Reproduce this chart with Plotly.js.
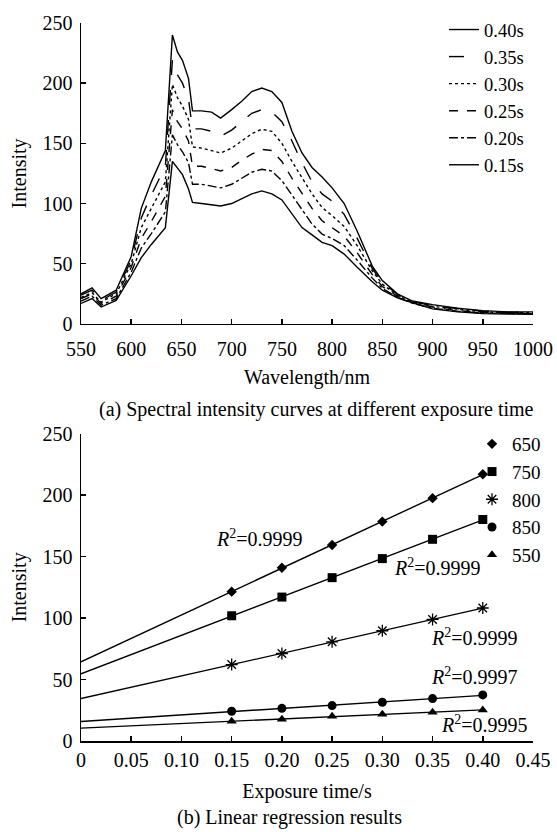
<!DOCTYPE html>
<html>
<head>
<meta charset="utf-8">
<script src="https://cdn.plot.ly/plotly-3.0.1.min.js"></script>
<style>
html,body{margin:0;padding:0;background:#fff;}
#chart{width:557px;height:832px;}
</style>
</head>
<body>
<div id="chart"></div>
<script>
// ---------- (a) spectral curves ----------
const wavelength = [550, 561, 570, 585, 600, 610, 620, 634, 641, 646, 651, 657, 661, 670, 680, 689, 700, 710, 720, 730, 740, 750, 760, 770, 780, 790, 800, 812, 825, 840, 850, 865, 880, 900, 925, 950, 975, 1000];
const s040 = [25, 30, 21, 28, 56, 96, 118, 144, 240, 226, 219, 204, 177, 177, 176, 171, 178, 185, 193, 196, 193, 184, 160, 142, 130, 122, 113, 100, 77, 48, 36, 25, 19, 16, 13, 11, 10, 10];
const s035 = [24, 28, 19.5, 26.5, 53, 88, 107, 131, 219, 207, 200, 187, 162, 162, 160, 156, 161, 168, 175, 178, 176, 168, 152, 134, 118, 108, 102, 91, 71, 46, 34.5, 24.5, 18.5, 15, 12.5, 10.5, 9.7, 9.6];
const s030 = [22, 26, 18, 25, 50, 80, 96, 118, 199, 188, 181, 170, 147, 146, 144, 142, 146, 152, 158, 161.7, 160, 150, 135, 121.5, 108, 96.7, 90, 81, 65, 44, 33, 23.5, 18, 14.5, 12, 10, 9.3, 9.2];
const s025 = [21, 25, 17, 23, 47, 71, 85, 106, 178, 168, 162, 152, 131, 131, 129, 127, 130, 136, 141, 145, 144, 135, 121, 108, 96, 85.7, 80, 73, 59, 41, 31, 23, 17.8, 14, 11, 9.5, 9, 8.8];
const s020 = [19, 23, 15.5, 21, 43, 63, 75, 93, 157, 149, 143, 134, 116, 116, 114.5, 113, 116, 121, 126, 128.5, 127, 119, 107, 94, 83, 74.6, 71, 65, 53, 38, 29.5, 22, 17.2, 13, 10.5, 9, 8.6, 8.4];
const s015 = [17, 21, 14, 19.5, 40, 55, 66, 80, 135, 129, 124, 112, 101, 100, 99, 98, 100, 104, 108, 110.5, 108, 103, 91, 80, 74, 67.7, 65, 58, 47, 35, 28, 21.7, 17.5, 12.5, 10, 8.5, 8.2, 8];
const spectraNames = ['0.40s', '0.35s', '0.30s', '0.25s', '0.20s', '0.15s'];
const wlTicks = [550, 600, 650, 700, 750, 800, 850, 900, 950, 1000];
const intensityTicks = [0, 50, 100, 150, 200, 250];

// ---------- (b) linear regression ----------
const exposure = [0.15, 0.20, 0.25, 0.30, 0.35, 0.40];
const i650 = [121.5, 141, 159.5, 178.5, 197.6, 217];
const i750 = [101.9, 117.1, 132.9, 148.4, 164.1, 180.2];
const i800 = [62.2, 71.2, 80.7, 89.7, 98.9, 108.2];
const i850 = [24.2, 26.6, 28.8, 31.5, 34.5, 37.5];
const i550 = [16.0, 17.7, 20.1, 21.7, 23.4, 25.3];
const bandNames = ['650', '750', '800', '850', '550'];
const r2Values = ['0.9999', '0.9999', '0.9999', '0.9997', '0.9995'];
const expTickVals = [0, 0.05, 0.10, 0.15, 0.20, 0.25, 0.30, 0.35, 0.40, 0.45];
const expTickText = ['0', '0.05', '0.10', '0.15', '0.20', '0.25', '0.30', '0.35', '0.40', '0.45'];

const FONT = 'Liberation Serif, Times New Roman, serif';
const traces = [];

const spectra = [s040, s035, s030, s025, s020, s015];
const dashes = ['solid', 'longdash', 'dot', 'dash', 'dashdot', 'solid'];
spectra.forEach((s, k) => {
  traces.push({
    x: wavelength, y: s, type: 'scatter', mode: 'lines', name: spectraNames[k],
    xaxis: 'x', yaxis: 'y', legend: 'legend',
    line: {color: '#000', width: 1.4, dash: dashes[k]}
  });
});

const bands = [i650, i750, i800, i850, i550];
const symbols = ['diamond', 'square', 'asterisk-open', 'circle', 'triangle-up'];
const sizes = [8, 9, 10, 9, 9];

function fit(xs, ys) {
  const n = xs.length;
  const mx = xs.reduce((a, b) => a + b, 0) / n;
  const my = ys.reduce((a, b) => a + b, 0) / n;
  let sxy = 0, sxx = 0;
  for (let i = 0; i < n; i++) { sxy += (xs[i] - mx) * (ys[i] - my); sxx += (xs[i] - mx) ** 2; }
  const b = sxy / sxx;
  return {slope: b, intercept: my - b * mx};
}

bands.forEach((ys, k) => {
  const f = fit(exposure, ys);
  const xl = [0, exposure[exposure.length - 1]];
  traces.push({
    x: xl, y: xl.map(v => f.intercept + f.slope * v), type: 'scatter', mode: 'lines',
    xaxis: 'x2', yaxis: 'y2', showlegend: false, hoverinfo: 'skip',
    line: {color: '#000', width: 1.4}
  });
});
bands.forEach((ys, k) => {
  traces.push({
    x: exposure, y: ys, type: 'scatter', mode: 'markers', name: bandNames[k],
    xaxis: 'x2', yaxis: 'y2', legend: 'legend2',
    marker: {symbol: symbols[k], size: sizes[k], color: '#000', line: {color: '#000', width: symbols[k] === 'asterisk-open' ? 1.3 : 0}}
  });
});

const r2Pos = [[0.178, 164.8], [0.355, 141.5], [0.392, 84.6], [0.392, 52.6], [0.402, 13.6]];
const annotations = r2Values.map((v, k) => ({
  x: r2Pos[k][0], y: r2Pos[k][1], xref: 'x2', yref: 'y2', showarrow: false,
  text: '<i>R</i><sup>2</sup>=' + v, font: {family: FONT, size: 20, color: '#000'},
  xanchor: 'center', yanchor: 'middle'
}));
annotations.push({
  x: 317, y: 409, xref: 'paper', yref: 'paper', showarrow: false,
  text: '(a) Spectral intensity curves at different exposure time',
  font: {family: FONT, size: 20, color: '#000'}, xanchor: 'center', yanchor: 'middle'
});
annotations.push({
  x: 290, y: 818, xref: 'paper', yref: 'paper', showarrow: false,
  text: '(b) Linear regression results',
  font: {family: FONT, size: 20, color: '#000'}, xanchor: 'center', yanchor: 'middle'
});
// convert pixel-placed captions into paper coords
const L = 81, R = 23, T = 22, B = 91, W = 557, H = 832;
const pw = W - L - R, ph = H - T - B;
annotations.slice(-2).forEach(a => { a.x = (a.x - L) / pw; a.y = (H - B - a.y) / ph; });

const axisCommon = {
  showline: true, linecolor: '#000', linewidth: 1.5, ticks: 'inside', ticklen: 5,
  tickcolor: '#000', tickwidth: 1.5, showgrid: false, zeroline: false,
  tickfont: {family: FONT, size: 20, color: '#000'}
};

const layout = {
  width: W, height: H,
  margin: {l: L, r: R, t: T, b: B},
  paper_bgcolor: '#fff', plot_bgcolor: '#fff',
  font: {family: FONT, size: 20, color: '#000'},
  showlegend: true,
  xaxis: Object.assign({}, axisCommon, {
    anchor: 'y', domain: [0, 1], range: [550, 1000], tickmode: 'array', tickvals: wlTicks,
    ticklabelstandoff: 7,
    title: {text: 'Wavelength/nm', font: {family: FONT, size: 20, color: '#000'}, standoff: 10}
  }),
  yaxis: Object.assign({}, axisCommon, {
    anchor: 'x', domain: [(H - B - 323.3) / ph, 1], range: [0, 250], tickmode: 'array', tickvals: intensityTicks,
    ticklabelstandoff: 3,
    title: {text: 'Intensity', font: {family: FONT, size: 20, color: '#000'}, standoff: 10}
  }),
  xaxis2: Object.assign({}, axisCommon, {
    anchor: 'y2', domain: [0, 1], range: [0, 0.45], tickmode: 'array', tickvals: expTickVals, ticktext: expTickText,
    title: {text: 'Exposure time/s', font: {family: FONT, size: 20, color: '#000'}, standoff: 14}
  }),
  yaxis2: Object.assign({}, axisCommon, {
    anchor: 'x2', domain: [0, (H - B - 433.3) / ph], range: [0, 250], tickmode: 'array', tickvals: intensityTicks,
    ticklabelstandoff: 3,
    title: {text: 'Intensity', font: {family: FONT, size: 20, color: '#000'}, standoff: 10}
  }),
  legend: {
    x: (444 - L) / pw, xanchor: 'left', y: (H - B - 11) / ph, yanchor: 'top',
    bgcolor: 'rgba(0,0,0,0)', font: {family: FONT, size: 18.5, color: '#000'}, tracegroupgap: 0
  },
  legend2: {
    x: (472 - L) / pw, xanchor: 'left', y: (H - B - 425) / ph, yanchor: 'top',
    bgcolor: 'rgba(0,0,0,0)', font: {family: FONT, size: 19, color: '#000'}, tracegroupgap: 0
  },
  annotations: annotations
};

Plotly.newPlot('chart', traces, layout, {displayModeBar: false, staticPlot: true});
</script>
</body>
</html>
